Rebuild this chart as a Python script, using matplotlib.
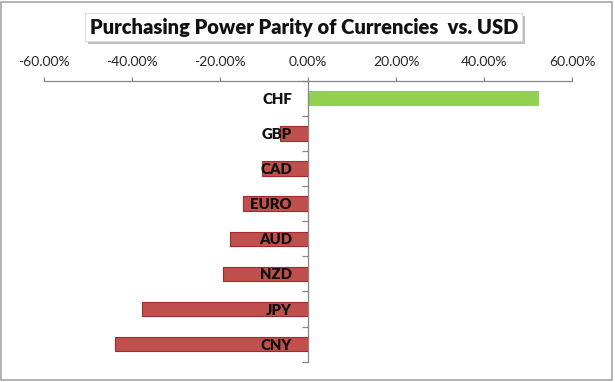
import matplotlib
matplotlib.use('Agg')
import matplotlib.pyplot as plt
import matplotlib.patheffects as pe
from matplotlib.patches import Rectangle
from matplotlib.ticker import FuncFormatter, FixedLocator

# data (percent vs. USD)
currencies = ['CHF', 'GBP', 'CAD', 'EURO', 'AUD', 'NZD', 'JPY', 'CNY']
ppp_values = [52.2, -6.3, -10.4, -14.7, -17.7, -19.3, -37.8, -43.8]
x_ticks = [-60, -40, -20, 0, 20, 40, 60]

plt.rcParams['font.family'] = ['Lato', 'DejaVu Sans']

fig = plt.figure(figsize=(6.15, 3.82), dpi=100)
ax = fig.add_axes([0.0711, 0.0531, 0.8595, 0.7356])
ax.set_axisbelow(False)

colors = ['#92D050' if v > 0 else '#C0504D' for v in ppp_values]
edges = ['#92D050' if v > 0 else '#A8282A' for v in ppp_values]
pos = list(range(len(currencies)))
ax.barh(pos, ppp_values, height=0.41, color=colors, edgecolor=edges, linewidth=0.8, zorder=2)

ax.set_xlim(-60, 60)
ax.set_ylim(len(currencies) - 0.5, -0.5)

# x axis on top
ax.xaxis.tick_top()
ax.set_xticks(x_ticks)
ax.xaxis.set_major_formatter(FuncFormatter(lambda v, p: f'{v:.2f}%'))
ax.tick_params(axis='x', direction='out', length=3, width=0.9, color='#868686',
               pad=6, labelsize=10, labelcolor='#262626')

# category axis through zero
ax.spines['left'].set_position(('data', 0))
ax.set_yticks(pos)
ax.set_yticklabels(currencies, fontweight='heavy', fontsize=10.8, color='#111111')
ax.yaxis.set_minor_locator(FixedLocator([p + 0.5 for p in range(-1, len(currencies))]))
ax.tick_params(axis='y', which='major', length=0, pad=11.5)
ax.tick_params(axis='y', which='minor', direction='out', length=4.5, width=0.9, color='#868686')

for s in ['right', 'bottom']:
    ax.spines[s].set_visible(False)
for s in ['top', 'left']:
    ax.spines[s].set_color('#868686')
    ax.spines[s].set_linewidth(0.9)

# title in a shadowed box
t = fig.text(0.494, 0.929, 'Purchasing Power Parity of Currencies  vs. USD',
             ha='center', va='center', fontsize=14.5, fontweight='heavy', color='#111111',
             bbox=dict(boxstyle='square,pad=0.22', fc='white', ec='#d8d8d8', lw=0.6))
t.get_bbox_patch().set_path_effects([
    pe.withSimplePatchShadow(offset=(2, -2), shadow_rgbFace='#808080', alpha=0.5),
    pe.Normal()])

# outer chart border
fig.patches.append(Rectangle((0.002, 0.004), 0.993, 0.992, transform=fig.transFigure,
                             fill=False, ec='#A6A6A6', lw=1.2))

fig.savefig('out.png', dpi=100)
